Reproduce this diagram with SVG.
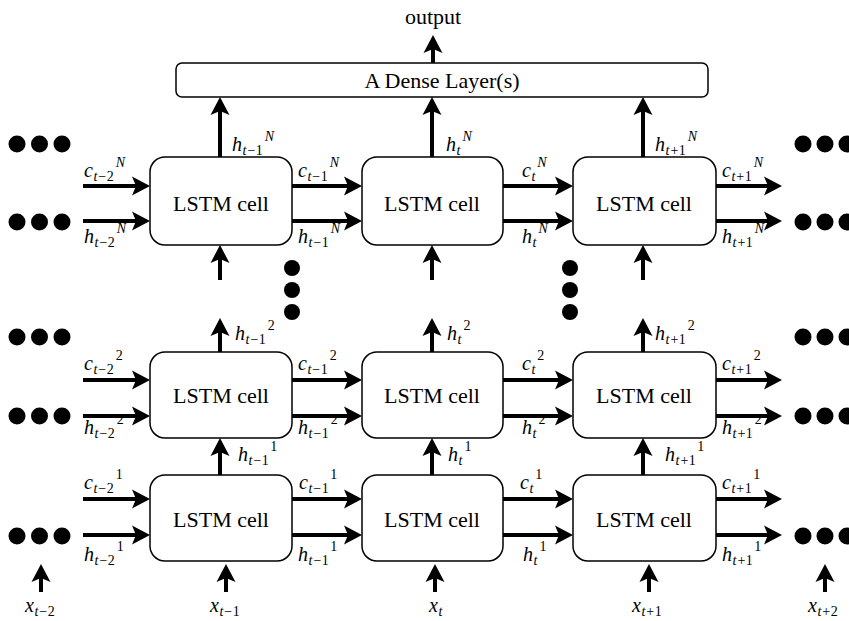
<svg xmlns="http://www.w3.org/2000/svg" width="849" height="621" viewBox="0 0 849 621">
<style>
.cell{fill:#fff;stroke:#000;stroke-width:1.5}
.t{font-family:"Liberation Serif","Times New Roman",serif;font-size:22px;fill:#000;text-anchor:middle}
.m{font-family:"Liberation Serif","Times New Roman",serif;font-style:italic;font-size:20px;fill:#000}
.s{font-size:14px}
.n{font-style:normal}
.a{stroke:#000;stroke-width:4;fill:none;marker-end:url(#ah)}
.d{fill:#000}
</style>
<defs>
<marker id="ah" markerUnits="userSpaceOnUse" viewBox="-11 -11 22 22" markerWidth="22" markerHeight="22" refX="0" refY="0" orient="auto">
<path d="M8,0 L-10,-9.5 L-6,0 L-10,9.5 Z" fill="#000"/>
</marker>
</defs>
<g id="dense"><rect class="cell" x="176" y="63" width="532" height="34" rx="6"/><text class="t" x="442" y="88">A Dense Layer(s)</text></g>
<text id="output" class="t" x="433" y="24">output</text>
<g id="cell-N-1"><rect class="cell" x="150" y="157" width="142" height="88" rx="15"/><text class="t" x="221" y="211">LSTM cell</text></g>
<g id="cell-N-2"><rect class="cell" x="362" y="157" width="141" height="88" rx="15"/><text class="t" x="432" y="211">LSTM cell</text></g>
<g id="cell-N-3"><rect class="cell" x="573" y="157" width="143" height="88" rx="15"/><text class="t" x="644" y="211">LSTM cell</text></g>
<g id="cell-2-1"><rect class="cell" x="150" y="352" width="142" height="86" rx="15"/><text class="t" x="221" y="403">LSTM cell</text></g>
<g id="cell-2-2"><rect class="cell" x="362" y="352" width="141" height="86" rx="15"/><text class="t" x="432" y="403">LSTM cell</text></g>
<g id="cell-2-3"><rect class="cell" x="573" y="352" width="143" height="86" rx="15"/><text class="t" x="644" y="403">LSTM cell</text></g>
<g id="cell-1-1"><rect class="cell" x="150" y="475" width="142" height="86" rx="15"/><text class="t" x="221" y="527">LSTM cell</text></g>
<g id="cell-1-2"><rect class="cell" x="362" y="475" width="141" height="86" rx="15"/><text class="t" x="432" y="527">LSTM cell</text></g>
<g id="cell-1-3"><rect class="cell" x="573" y="475" width="143" height="86" rx="15"/><text class="t" x="644" y="527">LSTM cell</text></g>
<g id="connectors">
<line class="a" x1="433" y1="63" x2="433" y2="43"/>
<line class="a" x1="220" y1="157" x2="220" y2="105"/>
<line class="a" x1="432" y1="157" x2="432" y2="105"/>
<line class="a" x1="643" y1="157" x2="643" y2="105"/>
<line class="a" x1="220" y1="280" x2="220" y2="253"/>
<line class="a" x1="432" y1="280" x2="432" y2="253"/>
<line class="a" x1="643" y1="280" x2="643" y2="253"/>
<line class="a" x1="220" y1="352" x2="220" y2="326"/>
<line class="a" x1="432" y1="352" x2="432" y2="326"/>
<line class="a" x1="643" y1="352" x2="643" y2="326"/>
<line class="a" x1="220" y1="475" x2="220" y2="446"/>
<line class="a" x1="432" y1="475" x2="432" y2="446"/>
<line class="a" x1="643" y1="475" x2="643" y2="446"/>
<line class="a" x1="41" y1="592" x2="41" y2="572"/>
<line class="a" x1="226" y1="592" x2="226" y2="572"/>
<line class="a" x1="435" y1="592" x2="435" y2="572"/>
<line class="a" x1="649" y1="592" x2="649" y2="572"/>
<line class="a" x1="825" y1="592" x2="825" y2="572"/>
<line class="a" x1="83" y1="186" x2="142" y2="186"/>
<line class="a" x1="83" y1="221" x2="142" y2="221"/>
<line class="a" x1="292" y1="186" x2="354" y2="186"/>
<line class="a" x1="292" y1="221" x2="354" y2="221"/>
<line class="a" x1="503" y1="186" x2="565" y2="186"/>
<line class="a" x1="503" y1="221" x2="565" y2="221"/>
<line class="a" x1="716" y1="186" x2="774" y2="186"/>
<line class="a" x1="716" y1="221" x2="774" y2="221"/>
<line class="a" x1="83" y1="380" x2="142" y2="380"/>
<line class="a" x1="83" y1="416" x2="142" y2="416"/>
<line class="a" x1="292" y1="380" x2="354" y2="380"/>
<line class="a" x1="292" y1="416" x2="354" y2="416"/>
<line class="a" x1="503" y1="380" x2="565" y2="380"/>
<line class="a" x1="503" y1="416" x2="565" y2="416"/>
<line class="a" x1="716" y1="380" x2="774" y2="380"/>
<line class="a" x1="716" y1="416" x2="774" y2="416"/>
<line class="a" x1="83" y1="499" x2="142" y2="499"/>
<line class="a" x1="83" y1="535" x2="142" y2="535"/>
<line class="a" x1="292" y1="499" x2="354" y2="499"/>
<line class="a" x1="292" y1="535" x2="354" y2="535"/>
<line class="a" x1="503" y1="499" x2="565" y2="499"/>
<line class="a" x1="503" y1="535" x2="565" y2="535"/>
<line class="a" x1="716" y1="499" x2="774" y2="499"/>
<line class="a" x1="716" y1="535" x2="774" y2="535"/>
</g>
<g id="dots">
<circle class="d" cx="17" cy="144" r="8.5"/><circle class="d" cx="39.5" cy="144" r="8.5"/><circle class="d" cx="62" cy="144" r="8.5"/>
<circle class="d" cx="17" cy="222" r="8.5"/><circle class="d" cx="39.5" cy="222" r="8.5"/><circle class="d" cx="62" cy="222" r="8.5"/>
<circle class="d" cx="17" cy="337" r="8.5"/><circle class="d" cx="39.5" cy="337" r="8.5"/><circle class="d" cx="62" cy="337" r="8.5"/>
<circle class="d" cx="17" cy="416" r="8.5"/><circle class="d" cx="39.5" cy="416" r="8.5"/><circle class="d" cx="62" cy="416" r="8.5"/>
<circle class="d" cx="17" cy="536" r="8.5"/><circle class="d" cx="39.5" cy="536" r="8.5"/><circle class="d" cx="62" cy="536" r="8.5"/>
<circle class="d" cx="803" cy="144" r="8.5"/><circle class="d" cx="825" cy="144" r="8.5"/><circle class="d" cx="847" cy="144" r="8.5"/>
<circle class="d" cx="803" cy="222" r="8.5"/><circle class="d" cx="825" cy="222" r="8.5"/><circle class="d" cx="847" cy="222" r="8.5"/>
<circle class="d" cx="803" cy="337" r="8.5"/><circle class="d" cx="825" cy="337" r="8.5"/><circle class="d" cx="847" cy="337" r="8.5"/>
<circle class="d" cx="803" cy="416" r="8.5"/><circle class="d" cx="825" cy="416" r="8.5"/><circle class="d" cx="847" cy="416" r="8.5"/>
<circle class="d" cx="803" cy="536" r="8.5"/><circle class="d" cx="825" cy="536" r="8.5"/><circle class="d" cx="847" cy="536" r="8.5"/>
<circle class="d" cx="292" cy="268" r="8"/><circle class="d" cx="292" cy="290" r="8"/><circle class="d" cx="292" cy="312" r="8"/>
<circle class="d" cx="570" cy="268" r="8"/><circle class="d" cx="570" cy="290" r="8"/><circle class="d" cx="570" cy="312" r="8"/>
</g>
<g id="labels">
<text class="m" x="232" y="151">h<tspan class="s" dy="4" dx="0.5">t</tspan><tspan class="s n" dx="1">−</tspan><tspan class="s n" dx="0.5">1</tspan><tspan class="s" dx="2" dy="-14">N</tspan></text>
<text class="m" x="446" y="151">h<tspan class="s" dy="4" dx="0.5">t</tspan><tspan class="s" dx="2" dy="-14">N</tspan></text>
<text class="m" x="655" y="151">h<tspan class="s" dy="4" dx="0.5">t</tspan><tspan class="s n" dx="1">+</tspan><tspan class="s n" dx="0.5">1</tspan><tspan class="s" dx="2" dy="-14">N</tspan></text>
<text class="m" x="84" y="177">c<tspan class="s" dy="4" dx="0.5">t</tspan><tspan class="s n" dx="1">−</tspan><tspan class="s n" dx="0.5">2</tspan><tspan class="s" dx="2" dy="-14">N</tspan></text>
<text class="m" x="84" y="243">h<tspan class="s" dy="4" dx="0.5">t</tspan><tspan class="s n" dx="1">−</tspan><tspan class="s n" dx="0.5">2</tspan><tspan class="s" dx="2" dy="-14">N</tspan></text>
<text class="m" x="298" y="177">c<tspan class="s" dy="4" dx="0.5">t</tspan><tspan class="s n" dx="1">−</tspan><tspan class="s n" dx="0.5">1</tspan><tspan class="s" dx="2" dy="-14">N</tspan></text>
<text class="m" x="298" y="243">h<tspan class="s" dy="4" dx="0.5">t</tspan><tspan class="s n" dx="1">−</tspan><tspan class="s n" dx="0.5">1</tspan><tspan class="s" dx="2" dy="-14">N</tspan></text>
<text class="m" x="522" y="177">c<tspan class="s" dy="4" dx="0.5">t</tspan><tspan class="s" dx="2" dy="-14">N</tspan></text>
<text class="m" x="522" y="243">h<tspan class="s" dy="4" dx="0.5">t</tspan><tspan class="s" dx="2" dy="-14">N</tspan></text>
<text class="m" x="722" y="177">c<tspan class="s" dy="4" dx="0.5">t</tspan><tspan class="s n" dx="1">+</tspan><tspan class="s n" dx="0.5">1</tspan><tspan class="s" dx="2" dy="-14">N</tspan></text>
<text class="m" x="722" y="243">h<tspan class="s" dy="4" dx="0.5">t</tspan><tspan class="s n" dx="1">+</tspan><tspan class="s n" dx="0.5">1</tspan><tspan class="s" dx="2" dy="-14">N</tspan></text>
<text class="m" x="235" y="340">h<tspan class="s" dy="4" dx="0.5">t</tspan><tspan class="s n" dx="1">−</tspan><tspan class="s n" dx="0.5">1</tspan><tspan class="s n" dx="2" dy="-14">2</tspan></text>
<text class="m" x="447" y="340">h<tspan class="s" dy="4" dx="0.5">t</tspan><tspan class="s n" dx="2" dy="-14">2</tspan></text>
<text class="m" x="655" y="340">h<tspan class="s" dy="4" dx="0.5">t</tspan><tspan class="s n" dx="1">+</tspan><tspan class="s n" dx="0.5">1</tspan><tspan class="s n" dx="2" dy="-14">2</tspan></text>
<text class="m" x="84" y="370">c<tspan class="s" dy="4" dx="0.5">t</tspan><tspan class="s n" dx="1">−</tspan><tspan class="s n" dx="0.5">2</tspan><tspan class="s n" dx="2" dy="-14">2</tspan></text>
<text class="m" x="84" y="434">h<tspan class="s" dy="4" dx="0.5">t</tspan><tspan class="s n" dx="1">−</tspan><tspan class="s n" dx="0.5">2</tspan><tspan class="s n" dx="2" dy="-14">2</tspan></text>
<text class="m" x="298" y="370">c<tspan class="s" dy="4" dx="0.5">t</tspan><tspan class="s n" dx="1">−</tspan><tspan class="s n" dx="0.5">1</tspan><tspan class="s n" dx="2" dy="-14">2</tspan></text>
<text class="m" x="298" y="434">h<tspan class="s" dy="4" dx="0.5">t</tspan><tspan class="s n" dx="1">−</tspan><tspan class="s n" dx="0.5">1</tspan><tspan class="s n" dx="2" dy="-14">2</tspan></text>
<text class="m" x="522" y="370">c<tspan class="s" dy="4" dx="0.5">t</tspan><tspan class="s n" dx="2" dy="-14">2</tspan></text>
<text class="m" x="522" y="434">h<tspan class="s" dy="4" dx="0.5">t</tspan><tspan class="s n" dx="2" dy="-14">2</tspan></text>
<text class="m" x="722" y="370">c<tspan class="s" dy="4" dx="0.5">t</tspan><tspan class="s n" dx="1">+</tspan><tspan class="s n" dx="0.5">1</tspan><tspan class="s n" dx="2" dy="-14">2</tspan></text>
<text class="m" x="722" y="434">h<tspan class="s" dy="4" dx="0.5">t</tspan><tspan class="s n" dx="1">+</tspan><tspan class="s n" dx="0.5">1</tspan><tspan class="s n" dx="2" dy="-14">2</tspan></text>
<text class="m" x="238" y="461">h<tspan class="s" dy="4" dx="0.5">t</tspan><tspan class="s n" dx="1">−</tspan><tspan class="s n" dx="0.5">1</tspan><tspan class="s n" dx="2" dy="-14">1</tspan></text>
<text class="m" x="448" y="461">h<tspan class="s" dy="4" dx="0.5">t</tspan><tspan class="s n" dx="2" dy="-14">1</tspan></text>
<text class="m" x="665" y="461">h<tspan class="s" dy="4" dx="0.5">t</tspan><tspan class="s n" dx="1">+</tspan><tspan class="s n" dx="0.5">1</tspan><tspan class="s n" dx="2" dy="-14">1</tspan></text>
<text class="m" x="84" y="489">c<tspan class="s" dy="4" dx="0.5">t</tspan><tspan class="s n" dx="1">−</tspan><tspan class="s n" dx="0.5">2</tspan><tspan class="s n" dx="2" dy="-14">1</tspan></text>
<text class="m" x="84" y="561">h<tspan class="s" dy="4" dx="0.5">t</tspan><tspan class="s n" dx="1">−</tspan><tspan class="s n" dx="0.5">2</tspan><tspan class="s n" dx="2" dy="-14">1</tspan></text>
<text class="m" x="299" y="489">c<tspan class="s" dy="4" dx="0.5">t</tspan><tspan class="s n" dx="1">−</tspan><tspan class="s n" dx="0.5">1</tspan><tspan class="s n" dx="2" dy="-14">1</tspan></text>
<text class="m" x="298" y="561">h<tspan class="s" dy="4" dx="0.5">t</tspan><tspan class="s n" dx="1">−</tspan><tspan class="s n" dx="0.5">1</tspan><tspan class="s n" dx="2" dy="-14">1</tspan></text>
<text class="m" x="520" y="489">c<tspan class="s" dy="4" dx="0.5">t</tspan><tspan class="s n" dx="2" dy="-14">1</tspan></text>
<text class="m" x="523" y="561">h<tspan class="s" dy="4" dx="0.5">t</tspan><tspan class="s n" dx="2" dy="-14">1</tspan></text>
<text class="m" x="722" y="489">c<tspan class="s" dy="4" dx="0.5">t</tspan><tspan class="s n" dx="1">+</tspan><tspan class="s n" dx="0.5">1</tspan><tspan class="s n" dx="2" dy="-14">1</tspan></text>
<text class="m" x="722" y="561">h<tspan class="s" dy="4" dx="0.5">t</tspan><tspan class="s n" dx="1">+</tspan><tspan class="s n" dx="0.5">1</tspan><tspan class="s n" dx="2" dy="-14">1</tspan></text>
<text class="m" x="25" y="612">x<tspan class="s" dy="4" dx="0.5">t</tspan><tspan class="s n" dx="1">−</tspan><tspan class="s n" dx="0.5">2</tspan></text>
<text class="m" x="210" y="612">x<tspan class="s" dy="4" dx="0.5">t</tspan><tspan class="s n" dx="1">−</tspan><tspan class="s n" dx="0.5">1</tspan></text>
<text class="m" x="429" y="612">x<tspan class="s" dy="4" dx="0.5">t</tspan></text>
<text class="m" x="632" y="612">x<tspan class="s" dy="4" dx="0.5">t</tspan><tspan class="s n" dx="1">+</tspan><tspan class="s n" dx="0.5">1</tspan></text>
<text class="m" x="808" y="612">x<tspan class="s" dy="4" dx="0.5">t</tspan><tspan class="s n" dx="1">+</tspan><tspan class="s n" dx="0.5">2</tspan></text>
</g>
</svg>
